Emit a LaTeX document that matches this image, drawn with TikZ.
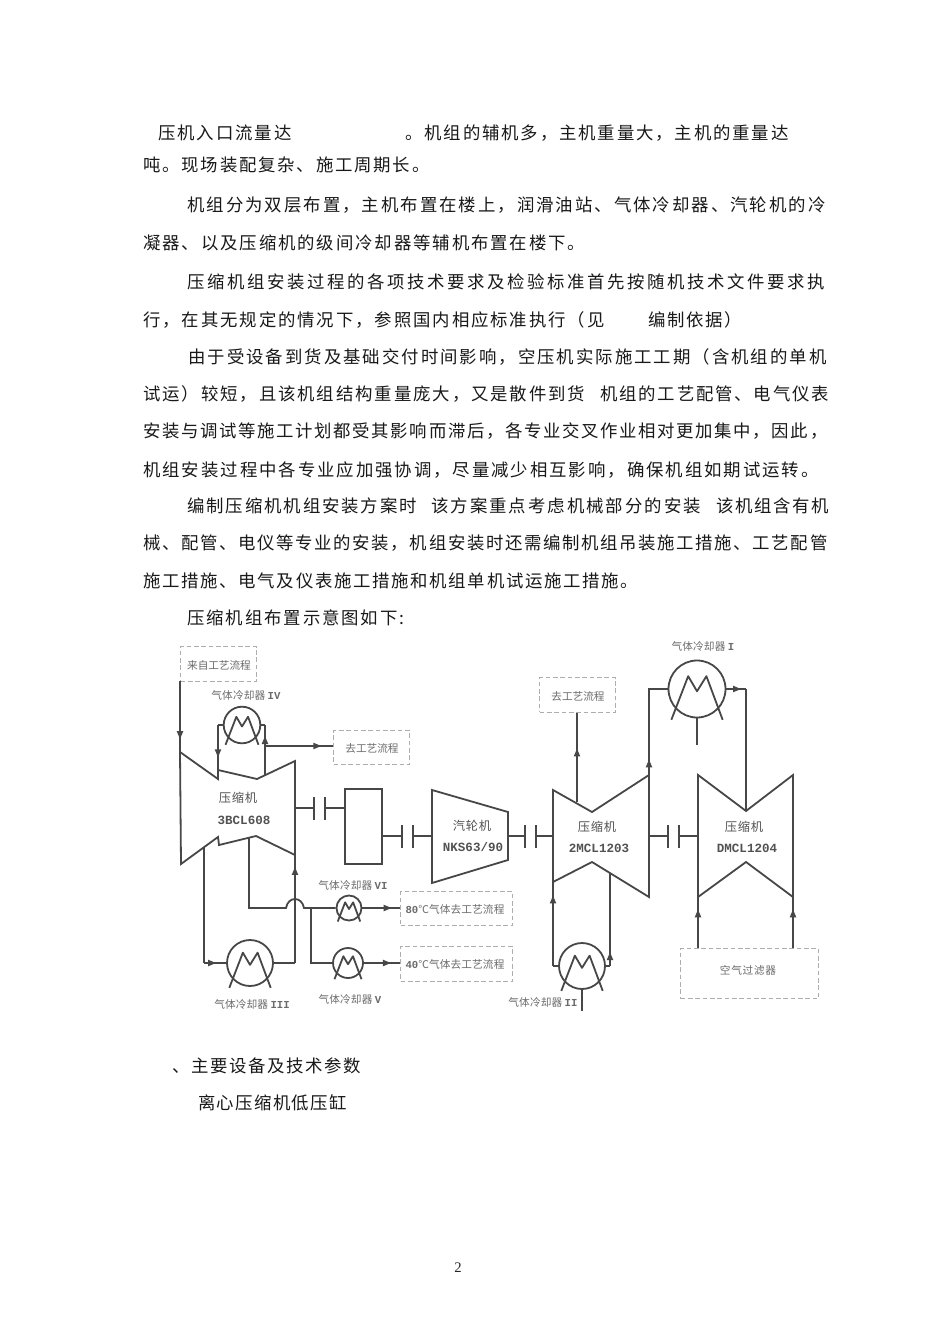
\documentclass[tikz,border=0pt]{standalone}
\usepackage{fontspec}
\usetikzlibrary{arrows.meta,decorations.markings,calc}
\setmainfont{Noto Sans CJK SC}
\newfontfamily\cjkbody{Noto Sans CJK SC}
\newfontfamily\latbold{Liberation Mono}[BoldFont={Liberation Mono Bold}]
\newfontfamily\numfont{Liberation Serif}
\tikzset{
  pipe/.style={line width=1.35pt,draw=black!72,line join=miter},
  dashbox/.style={draw=black!32,line width=0.8pt,dash pattern=on 3.5pt off 2pt,inner sep=0pt,anchor=north west},
  flow/.style={postaction={decorate,decoration={markings,mark=at position #1 with {\arrow{Stealth[length=6pt,width=4.5pt,inset=0pt]}}}}},
  bodytext/.style={anchor=base west,inner sep=0pt,text=black!90},
  dtext/.style={inner sep=0pt,text=black!58},
  mtext/.style={inner sep=0pt,text=black!68},
  couplebar/.style={line width=1.5pt,draw=black!72}
}
% x, y centre, pitch in px, text
\newcommand{\Tl}[4]{%
  \pgfmathsetmacro{\lsv}{(#3-17.4)/17.4*100}%
  \node[bodytext] at (#1,#2+6.5) {\fontsize{13.05pt}{15pt}\selectfont\cjkbody\addfontfeature{LetterSpace=\lsv}#4};}
% name, x, y, pitch, text (diagram label)
\newcommand{\Dl}[5]{%
  \pgfmathsetmacro{\lsv}{(#4-10.67)/10.67*100}%
  \node[dtext] (#1) at (#2,#3) {\fontsize{8pt}{9pt}\selectfont\cjkbody\addfontfeature{LetterSpace=\lsv}#5};}
% label of a cooler: name,x,y,numeral
\newcommand{\Cooltxt}[4]{%
  \node[dtext] (#1) at (#2,#3) {\fontsize{8pt}{9pt}\selectfont\cjkbody\addfontfeature{LetterSpace=1}气体冷却器\ {\latbold\bfseries #4}};}
% name, x, y, r
\newcommand{\Cooler}[4]{%
  \node[circle,pipe,inner sep=0pt,minimum size={2*#4*0.75pt}] (#1) at (#2,#3) {};
  \begin{scope}[shift={(#2,#3)},x=#4*0.75pt,y=#4*0.75pt]
    \draw[pipe,line join=round] (-0.9,-1.08) -- (-0.31,0.45) -- (0,-0.08) -- (0.33,0.45) -- (0.9,-1.08);
  \end{scope}}
% name, x, y, text
\newcommand{\Mcn}[4]{\node[mtext] (#1) at (#2,#3) {\fontsize{9.2pt}{10pt}\selectfont\cjkbody\addfontfeature{LetterSpace=6}#4};}
\newcommand{\Mty}[4]{\node[mtext] (#1) at (#2,#3) {\fontsize{9.4pt}{10pt}\selectfont\latbold\bfseries #4};}
\begin{document}
\begin{tikzpicture}[x=0.75pt,y=-0.75pt]
\useasboundingbox (0,0) rectangle (950,1344);
\fill[white] (0,0) rectangle (950,1344);

% ---------- body text
\Tl{158}{133}{19.3}{压机入口流量达}
\Tl{405}{133}{19.25}{。机组的辅机多，主机重量大，主机的重量达}
\Tl{143}{165}{19.2}{吨。现场装配复杂、施工周期长。}
\Tl{187}{205}{19.4}{机组分为双层布置，主机布置在楼上，润滑油站、气体冷却器、汽轮机的冷}
\Tl{143}{243}{19.3}{凝器、以及压缩机的级间冷却器等辅机布置在楼下。}
\Tl{187}{282}{20.0}{压缩机组安装过程的各项技术要求及检验标准首先按随机技术文件要求执}
\Tl{143}{320}{19.3}{行，在其无规定的情况下，参照国内相应标准执行（见}
\Tl{648}{320}{19.0}{编制依据）}
\Tl{188}{357}{19.4}{由于受设备到货及基础交付时间影响，空压机实际施工工期（含机组的单机}
\Tl{143}{394}{19.3}{试运）较短，且该机组结构重量庞大，又是散件到货}
\Tl{600}{394}{19.2}{机组的工艺配管、电气仪表}
\Tl{143}{431}{19.05}{安装与调试等施工计划都受其影响而滞后，各专业交叉作业相对更加集中，因此，}
\Tl{143}{470}{19.35}{机组安装过程中各专业应加强协调，尽量减少相互影响，确保机组如期试运转。}
\Tl{187}{506}{19.3}{编制压缩机机组安装方案时}
\Tl{431}{506}{19.4}{该方案重点考虑机械部分的安装}
\Tl{716}{506}{19.0}{该机组含有机}
\Tl{143}{543}{19.05}{械、配管、电仪等专业的安装，机组安装时还需编制机组吊装施工措施、工艺配管}
\Tl{143}{581}{19.1}{施工措施、电气及仪表施工措施和机组单机试运施工措施。}
\Tl{187}{618}{19.3}{压缩机组布置示意图如下:}
\Tl{172}{1066}{19.0}{、主要设备及技术参数}
\Tl{198}{1103}{18.7}{离心压缩机低压缸}
\node[anchor=base,inner sep=0pt,text=black!85] (pageno) at (458,1272) {\fontsize{11pt}{13pt}\selectfont\numfont 2};

% ---------- dashed boxes
\node[dashbox,minimum width=57pt,minimum height=26pt] (srcbox) at (180,646) {};
\node[dashbox,minimum width=57pt,minimum height=25.5pt] (outA) at (333,730) {};
\node[dashbox,minimum width=57pt,minimum height=26pt] (outB) at (539,677) {};
\node[dashbox,minimum width=84pt,minimum height=25.5pt] (out80) at (400,891) {};
\node[dashbox,minimum width=84pt,minimum height=26pt] (out40) at (400,946) {};
\node[dashbox,minimum width=103.5pt,minimum height=37.5pt] (filter) at (680,948) {};
\Dl{tsrc}{219}{665}{10.6}{来自工艺流程}
\Dl{touta}{372}{748}{10.6}{去工艺流程}
\Dl{toutb}{578}{696}{10.6}{去工艺流程}
\node[dtext] (t80) at (455,909) {\fontsize{8pt}{9pt}\selectfont\cjkbody{\latbold\bfseries 80}\addfontfeature{LetterSpace=1}℃气体去工艺流程};
\node[dtext] (t40) at (455,964) {\fontsize{8pt}{9pt}\selectfont\cjkbody{\latbold\bfseries 40}\addfontfeature{LetterSpace=1}℃气体去工艺流程};
\Dl{tfilter}{748}{970}{11.4}{空气过滤器}

% ---------- coolers
\Cooler{cIV}{242}{725}{18.3}
\Cooler{cIII}{250}{963}{23}
\Cooler{cVI}{349}{908}{12.5}
\Cooler{cV}{348}{963}{15}
\Cooler{cII}{582}{966}{23}
\Cooler{cI}{697}{689}{28.5}
\Cooltxt{lIV}{246}{695}{IV}
\Cooltxt{lVI}{353}{885}{VI}
\Cooltxt{lIII}{252}{1004}{III}
\Cooltxt{lV}{350}{999}{V}
\Cooltxt{lII}{543}{1002}{II}
\Cooltxt{lI}{703}{646}{I}

% ---------- machines
\draw[pipe] (180,752) coordinate (mAtl) -- (218,779) -- (218,770) coordinate (mAin) -- (257,779) -- (295,761) -- (295,855) coordinate (mAbr) -- (256,836) -- (219,845) -- (218,837) -- (181,864) -- cycle;
\draw[pipe] (345,789) rectangle (382,864);
\draw[pipe] (432,790) -- (508,812) -- (508,860) -- (432,883) -- cycle;
\draw[pipe] (553,790) -- (592,812) -- (649,775) coordinate (mBtr) -- (649,897) -- (592,862) -- (553,882) coordinate (mBbl) -- cycle;
\draw[pipe] (698,775) -- (746,811) coordinate (mCtop) -- (793,775) -- (793,897) coordinate (mCbr) -- (746,862) -- (698,897) coordinate (mCbl) -- cycle;
\Mcn{mA1}{238}{798}{压缩机}
\Mty{mA2}{244}{820}{3BCL608}
\Mcn{mT1}{472}{826}{汽轮机}
\Mty{mT2}{473}{847}{NKS63/90}
\Mcn{mB1}{597}{827}{压缩机}
\Mty{mB2}{599}{848}{2MCL1203}
\Mcn{mC1}{744}{827}{压缩机}
\Mty{mC2}{747}{848}{DMCL1204}

% ---------- couplings
\foreach \xa/\xb/\xc/\xd/\yy/\yt/\yu in {295/314/325/345/808/797/820, 382/402/413/432/836/825/848, 508/525/536/553/836/825/848, 649/668/679/698/836/825/848}{
  \draw[pipe] (\xa,\yy) -- (\xb,\yy);
  \draw[pipe] (\xc,\yy) -- (\xd,\yy);
  \draw[couplebar] (\xb,\yt) -- (\xb,\yu);
  \draw[couplebar] (\xc,\yt) -- (\xc,\yu);
}

% ---------- connectors
\coordinate (srcfoot) at (180,681);
\draw[pipe,flow=0.82] (srcfoot) -- (mAtl);
% cooler IV
\coordinate (ivL) at (218,725);
\coordinate (ivR) at (265,725);
\coordinate (ivJ) at (265,746);
\coordinate (ivF) at (265,775);
\draw[pipe] (cIV.west) -- (ivL);
\draw[pipe,flow=0.72] (ivL) -- (mAin);
\draw[pipe] (cIV.east) -- (ivR);
\draw[pipe,flow=0.78] (ivF) -- (ivR);
\draw[pipe,flow=0.83] (ivJ) -- (outA.west |- ivJ);
% cooler III
\coordinate (iiiT) at (204,848);
\coordinate (iiiC) at (204,963);
\coordinate (iiiR) at (295,963);
\draw[pipe] (iiiT) -- (iiiC);
\draw[pipe,flow=0.55] (iiiC) -- (cIII.west);
\draw[pipe] (cIII.east) -- (iiiR);
\draw[pipe,flow=0.89] (iiiR) -- (mAbr);
% hot bypass to VI and V
\coordinate (hA) at (249,838);
\coordinate (hB) at (249,908);
\coordinate (hC) at (286,908);
\coordinate (hD) at (304,908);
\coordinate (hE) at (311,908);
\coordinate (hF) at (311,963);
\draw[pipe] (hA) -- (hB) -- (hC) .. controls (288,896) and (302,896) .. (hD) -- (cVI.west);
\draw[pipe] (hE) -- (hF) -- (cV.west);
\draw[pipe,flow=0.78] (cVI.east) -- (out80.west |- cVI);
\draw[pipe,flow=0.75] (cV.east) -- (out40.west |- cV);
% right-hand train
\coordinate (bOut) at (577,802);
\draw[pipe,flow=0.6] (bOut) -- (outB.south -| bOut);
\coordinate (iL) at (649,689);
\coordinate (iR) at (746,689);
\coordinate (iS) at (697,745);
\draw[pipe,flow=0.15] (mBtr) -- (iL) -- (cI.west);
\draw[pipe,flow=0.75] (cI.east) -- (iR);
\draw[pipe] (iR) -- (mCtop);
\draw[pipe] (cI.south) -- (iS);
\coordinate (iiL) at (553,966);
\coordinate (iiR) at (610,966);
\coordinate (iiT) at (610,873);
\coordinate (iiS) at (582,1011);
\draw[pipe] (cII.west) -- (iiL);
\draw[pipe,flow=0.84] (iiL) -- (mBbl);
\draw[pipe] (cII.east) -- (iiR);
\draw[pipe,flow=0.15] (iiR) -- (iiT);
\draw[pipe] (cII.south) -- (iiS);
\draw[pipe,flow=0.76] (filter.north -| mCbl) -- (mCbl);
\draw[pipe,flow=0.76] (filter.north -| mCbr) -- (mCbr);
\end{tikzpicture}
\end{document}
